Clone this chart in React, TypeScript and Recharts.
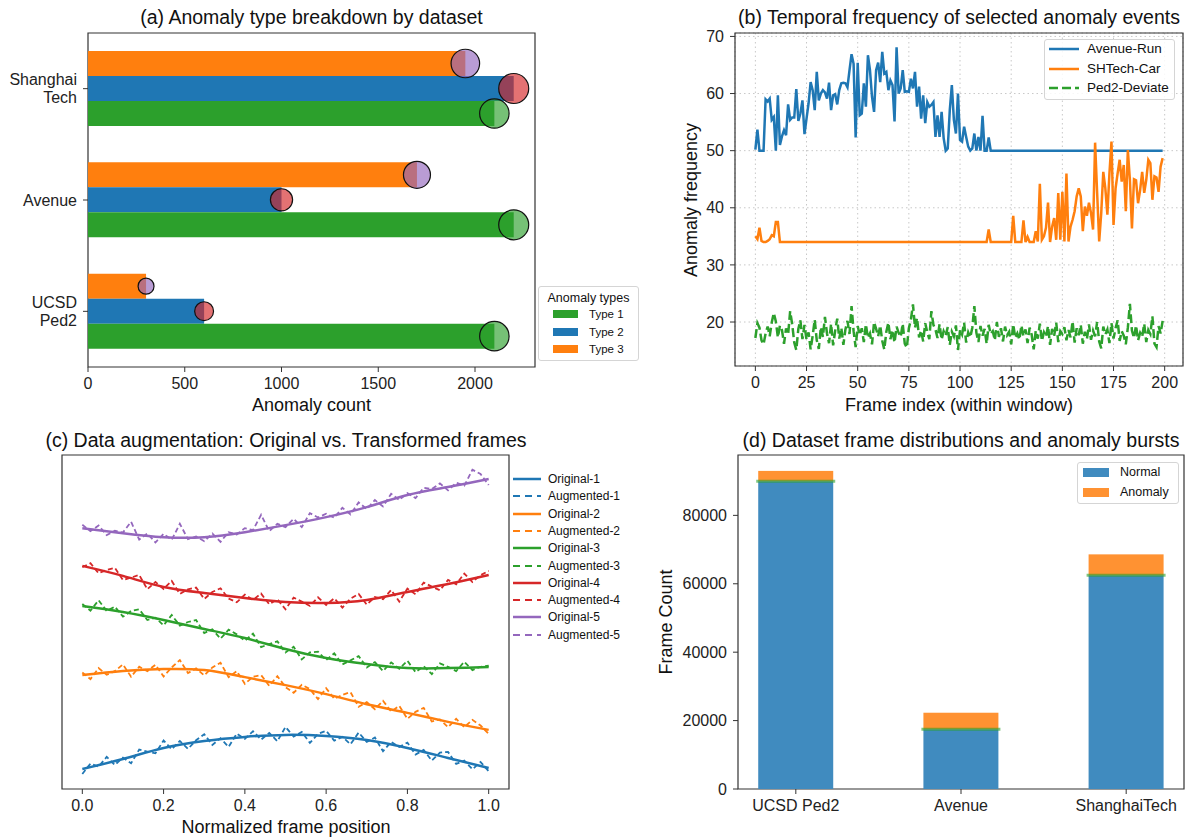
import React from 'react';
import {
  BarChart,
  Bar,
  LineChart,
  Line,
  XAxis,
  YAxis,
  CartesianGrid,
  Legend,
  ReferenceArea,
} from 'recharts';

const FONT = '"Liberation Sans", Arial, Helvetica, sans-serif';

const BLUE = '#1f77b4';
const ORANGE = '#ff7f0e';
const GREEN = '#2ca02c';
const RED = '#d62728';
const PURPLE = '#9467bd';

// (a) anomaly type breakdown, datasets listed top to bottom
const datasetLabels = ['Shanghai\nTech', 'Avenue', 'UCSD\nPed2'];
const type1Counts = [2100, 2200, 2100];
const type2Counts = [2200, 1000, 600];
const type3Counts = [1950, 1700, 300];
const countTicks = [0, 500, 1000, 1500, 2000];
const typeLegend = [
  { label: 'Type 1', color: GREEN },
  { label: 'Type 2', color: BLUE },
  { label: 'Type 3', color: ORANGE },
];

// (b) temporal frequency, one value per frame
const frameTicks = [0, 25, 50, 75, 100, 125, 150, 175, 200];
const freqTicks = [20, 30, 40, 50, 60, 70];
const avenueRun = [
  50.2, 53.7, 50, 50, 50, 59.0, 58.6, 59.1, 55.4, 55.9,
  50.0, 59.7, 51.0, 52.5, 53.6, 52.7, 58.1, 55.4, 55.8, 55.8,
  60.8, 55.2, 56.5, 58.8, 52.9, 55.6, 58.3, 62.0, 60.6, 57.1,
  63.8, 58.8, 60.0, 60.6, 60.2, 59.1, 61.9, 57.1, 59.7, 59.9,
  58.1, 60.6, 61.8, 61.9, 61.8, 61.1, 64.1, 66.9, 65.2, 52.3,
  65.4, 56.2, 56.5, 61.8, 57.7, 66.7, 64.1, 59.4, 56.8, 64.1,
  65.4, 62.0, 67.3, 63.5, 63.8, 60.6, 62.3, 61.5, 55.1, 68.1,
  60.0, 60.9, 64.1, 60.3, 60.4, 60.3, 62.6, 60.9, 63.8, 57.7,
  61.2, 55.6, 59.7, 54.8, 58.5, 57.7, 58.0, 58.5, 52.4, 56.2,
  52.4, 56.8, 52.2, 50.0, 50.4, 57.1, 61.5, 55.4, 53.0, 60.0,
  51.9, 51.6, 54.2, 52.4, 50.7, 50.0, 50.4, 53.0, 50.0, 52.4,
  50.0, 56.1, 50.0, 50.0, 52.3, 50.0, 50.0,
];
// after frame 116 the run stays flat at 50
const avenueRunTail = [[199, 50]];
const shtechCar = [
  [0, 35.0], [1, 34.5], [2, 36.5], [3, 34.2], [4, 34.0], [5, 34.0], [6, 34.2], [7, 34.5], [8, 35.2], [9, 35.0],
  [10, 37.5], [11, 37.5], [12, 34.0], [113, 34.0], [114, 36.2], [115, 34.0], [125, 34.0], [126, 38.6], [127, 34.0],
  [130, 34.0], [131, 37.8], [132, 34.0], [133, 34.9], [134, 34.0], [136, 34.0], [137, 35.9], [138, 34.1], [139, 44.2],
  [140, 34.4], [141, 35.0], [142, 36.5], [143, 40.9], [144, 34.0], [145, 36.7], [146, 38.2], [147, 34.4], [148, 42.6],
  [149, 34.4], [150, 42.8], [151, 34.1], [152, 46.0], [153, 34.1], [154, 36.7], [155, 37.9], [156, 39.4], [157, 42.0],
  [158, 43.4], [159, 42.0], [160, 35.9], [161, 40.2], [162, 38.6], [163, 40.9], [164, 39.1], [165, 36.2], [166, 51.4],
  [167, 42.6], [168, 34.1], [169, 39.1], [170, 46.3], [171, 43.4], [172, 38.8], [173, 46.0], [174, 51.6], [175, 37.0],
  [176, 43.4], [177, 46.0], [178, 48.4], [179, 44.6], [180, 47.5], [181, 39.4], [182, 50.1], [183, 44.9], [184, 36.4],
  [185, 45.0], [186, 44.8], [187, 40.8], [188, 43.1], [189, 46.3], [190, 42.6], [191, 44.9], [192, 48.4], [193, 47.8],
  [194, 41.4], [195, 45.5], [196, 45.3], [197, 42.8], [198, 47.2], [199, 48.7],
];
const ped2Deviate = [
  17.2, 19.8, 19.0, 16.8, 16.1, 18.0, 19.2, 17.5, 19.9, 21.6,
  20.1, 17.3, 19.4, 18.6, 16.2, 18.9, 17.8, 21.9, 19.6, 16.4,
  15.1, 18.8, 20.3, 17.0, 19.5, 16.9, 18.2, 15.2, 17.6, 20.4,
  16.8, 15.3, 19.1, 17.4, 20.9, 18.0, 16.3, 19.7, 15.9, 18.5,
  20.6, 17.1, 19.0, 16.0, 18.7, 20.2, 17.9, 22.8, 18.4, 15.6,
  19.3, 17.7, 18.9, 16.5, 19.6, 17.2, 18.0, 16.1, 20.0, 18.8,
  17.5, 19.4, 16.7, 15.2, 18.3, 19.9, 17.0, 18.6, 16.4, 19.2,
  18.1, 17.4, 19.7, 16.2, 15.5, 18.9, 20.4, 23.1, 19.0, 20.7,
  17.3, 18.5, 16.6, 19.8, 18.2, 17.0, 21.9, 19.5, 18.7, 17.2,
  19.6, 16.9, 18.4, 17.6, 19.1, 16.0, 18.3, 17.5, 19.4, 15.1,
  18.6, 17.8, 19.9, 16.4, 18.2, 17.3, 19.0, 22.8, 18.1, 16.5,
  19.3, 17.6, 18.8, 16.2, 19.5, 17.9, 18.4, 16.8, 20.0, 17.4,
  18.9, 16.6, 19.2, 17.7, 18.3, 16.1, 19.6, 17.2, 18.0, 16.9,
  19.4, 17.5, 18.7, 16.3, 19.0, 17.8, 15.2, 18.5, 17.1, 19.7,
  16.7, 18.2, 17.4, 19.3, 16.0, 18.8, 17.6, 19.9, 16.5, 18.4,
  17.9, 19.1, 16.8, 18.6, 17.3, 20.1, 16.4, 18.9, 17.7, 19.5,
  16.2, 18.3, 17.0, 19.6, 16.9, 18.5, 17.5, 20.0, 16.6, 15.4,
  19.2, 17.8, 18.7, 16.3, 19.8, 17.1, 18.9, 20.3, 16.7, 18.4,
  17.6, 16.1, 19.0, 23.2, 18.5, 17.2, 19.4, 16.8, 18.1, 17.4,
  19.7, 16.5, 18.6, 17.9, 21.0, 16.2, 15.6, 19.3, 18.0, 20.2,
];

// (c) original vs augmented curves (y axis is unlabelled, arbitrary units)
const posTicks = [0, 0.2, 0.4, 0.6, 0.8, 1.0];
const origX = [0, 0.1, 0.2, 0.3, 0.4, 0.5, 0.6, 0.7, 0.8, 0.9, 1.0];
const original1 = [0.60, 0.90, 1.23, 1.44, 1.56, 1.62, 1.59, 1.47, 1.23, 0.93, 0.63];
const original2 = [3.41, 3.53, 3.59, 3.56, 3.35, 3.11, 2.84, 2.54, 2.28, 2.01, 1.77];
const original3 = [5.48, 5.30, 5.06, 4.79, 4.52, 4.19, 3.92, 3.74, 3.62, 3.62, 3.65];
const original4 = [6.68, 6.38, 6.05, 5.87, 5.72, 5.60, 5.57, 5.66, 5.90, 6.14, 6.41];
const original5 = [7.81, 7.66, 7.54, 7.54, 7.69, 7.90, 8.14, 8.44, 8.80, 9.04, 9.28];
const augX = [
  0, 0.02, 0.04, 0.06, 0.08, 0.1, 0.12, 0.14, 0.16, 0.18, 0.2, 0.22, 0.24, 0.26, 0.28, 0.3, 0.32,
  0.34, 0.36, 0.38, 0.4, 0.42, 0.44, 0.46, 0.48, 0.5, 0.52, 0.54, 0.56, 0.58, 0.6, 0.62, 0.64,
  0.66, 0.68, 0.7, 0.72, 0.74, 0.76, 0.78, 0.8, 0.82, 0.84, 0.86, 0.88, 0.9, 0.92, 0.94, 0.96, 0.98, 1.0,
];
const augmented1 = [
  0.45, 0.76, 0.67, 0.96, 0.72, 0.94, 0.77, 1.18, 1.12, 1.07, 1.45, 1.19, 1.44, 1.20, 1.46, 1.64, 1.32,
  1.52, 1.26, 1.66, 1.50, 1.73, 1.48, 1.68, 1.43, 1.86, 1.57, 1.71, 1.38, 1.65, 1.74, 1.45, 1.56,
  1.34, 1.69, 1.41, 1.54, 1.13, 1.41, 1.26, 1.39, 1.03, 1.17, 0.85, 1.09, 1.11, 0.75, 0.85, 0.59, 0.81, 0.53,
];
const augmented2 = [
  3.49, 3.29, 3.62, 3.42, 3.53, 3.73, 3.36, 3.66, 3.53, 3.72, 3.37, 3.64, 3.86, 3.47, 3.61, 3.40, 3.64,
  3.78, 3.35, 3.53, 3.15, 3.36, 3.41, 3.09, 3.38, 3.05, 2.88, 3.12, 2.99, 2.69, 3.02, 2.70, 2.82,
  2.90, 2.46, 2.60, 2.39, 2.64, 2.32, 2.49, 2.10, 2.31, 2.43, 2.02, 2.08, 1.85, 2.10, 1.85, 2.07, 1.90, 1.65,
];
const augmented3 = [
  5.54, 5.34, 5.65, 5.33, 5.46, 5.16, 5.33, 5.38, 5.06, 5.13, 4.90, 5.21, 4.89, 5.00, 5.06, 4.67, 4.78,
  4.50, 4.77, 4.63, 4.44, 4.65, 4.25, 4.34, 4.42, 4.09, 4.26, 3.88, 4.09, 4.11, 3.86, 4.06, 3.73,
  3.85, 3.98, 3.64, 3.80, 3.53, 3.79, 3.60, 3.84, 3.50, 3.68, 3.44, 3.76, 3.66, 3.53, 3.81, 3.56, 3.66, 3.69,
];
const augmented4 = [
  6.64, 6.76, 6.46, 6.56, 6.62, 6.26, 6.33, 6.41, 5.98, 6.20, 5.99, 6.23, 5.84, 5.98, 6.03, 5.69, 5.90,
  6.01, 5.70, 5.59, 5.82, 5.66, 5.85, 5.53, 5.68, 5.38, 5.73, 5.61, 5.48, 5.74, 5.51, 5.71, 5.43,
  5.70, 5.84, 5.52, 5.75, 5.68, 5.96, 5.61, 6.00, 5.83, 6.18, 6.06, 5.95, 6.26, 6.13, 6.45, 6.20, 6.40, 6.53,
];
const augmented5 = [
  7.91, 7.72, 7.89, 7.60, 7.73, 7.68, 8.00, 7.47, 7.65, 7.38, 7.64, 7.46, 7.94, 7.48, 7.56, 7.42, 7.65,
  7.40, 7.69, 7.62, 7.81, 7.75, 8.21, 7.72, 7.94, 7.84, 8.09, 7.84, 8.26, 8.13, 8.24, 8.12, 8.42,
  8.22, 8.58, 8.38, 8.65, 8.46, 8.84, 8.65, 8.86, 8.71, 9.02, 8.98, 9.15, 8.94, 9.17, 9.08, 9.56, 9.43, 9.10,
];

// (d) frame counts per dataset
const frameDatasets = ['UCSD Ped2', 'Avenue', 'ShanghaiTech'];
const normalFrames = [90000, 17500, 62500];
const anomalyFrames = [3000, 4800, 6100];
const frameCountTicks = [0, 20000, 40000, 60000, 80000];

// ---- derived tables ----
const barRows = datasetLabels.map((name, i) => ({
  name,
  type1: type1Counts[i],
  type2: type2Counts[i],
  type3: type3Counts[i],
}));
const avenuePoints = [
  ...avenueRun.map((y, i) => ({ x: i, y })),
  ...avenueRunTail.map(([x, y]) => ({ x, y })),
];
const shtechPoints = shtechCar.map(([x, y]) => ({ x, y }));
const ped2Points = ped2Deviate.map((y, i) => ({ x: i, y }));
const toPoints = (xs: number[], ys: number[]) => xs.map((x, i) => ({ x, y: ys[i] }));
const curves = [
  { id: 1, color: BLUE, orig: original1, aug: augmented1 },
  { id: 2, color: ORANGE, orig: original2, aug: augmented2 },
  { id: 3, color: GREEN, orig: original3, aug: augmented3 },
  { id: 4, color: RED, orig: original4, aug: augmented4 },
  { id: 5, color: PURPLE, orig: original5, aug: augmented5 },
];
const frameRows = frameDatasets.map((name, i) => ({
  x: i,
  name,
  normal: normalFrames[i],
  anomaly: anomalyFrames[i],
}));

const TICK_FONT = 16;

const axisStyle = {
  tick: { fontSize: TICK_FONT, fill: '#222' },
  tickLine: { stroke: '#333' },
  tickSize: 5,
  tickMargin: 6,
  axisLine: false,
};

const MultiLineTick = (props: any) => {
  const { x, y, payload } = props;
  const lines = String(payload.value).split('\n');
  return (
    <text x={x} y={y} textAnchor="end" fontSize={TICK_FONT} fill="#222">
      {lines.map((line, i) => (
        <tspan key={i} x={x} y={y + 5.6 + (i - (lines.length - 1) / 2) * 18}>
          {line}
        </tspan>
      ))}
    </text>
  );
};

// circle at the end of each bar, size follows the count
const bubble = (color: string, key: string) => (props: any) => {
  const { x, y, width, height, payload } = props;
  const r = Math.sqrt(38 + 0.085 * payload[key]);
  return (
    <circle
      cx={x + width}
      cy={y + height / 2}
      r={r}
      fill={color}
      fillOpacity={0.65}
      stroke="#111"
      strokeWidth={1.2}
    />
  );
};

// anomaly segment with the green burst marker at its base
const BurstBar = (props: any) => {
  const { x, y, width, height, fill } = props;
  return (
    <g>
      <rect x={x} y={y} width={width} height={height} fill={fill} />
      <line
        x1={x - 2}
        x2={x + width + 2}
        y1={y + height}
        y2={y + height}
        stroke={GREEN}
        strokeOpacity={0.6}
        strokeWidth={3}
      />
    </g>
  );
};

const Title = ({ x, y, size = 19.5, children }: any) => (
  <div
    style={{
      position: 'absolute',
      left: x - 300,
      width: 600,
      top: y - 12,
      lineHeight: '24px',
      textAlign: 'center',
      fontSize: size,
      color: '#111',
      whiteSpace: 'nowrap',
    }}
  >
    {children}
  </div>
);

const VLabel = ({ x, y, children }: any) => (
  <div
    style={{
      position: 'absolute',
      left: x,
      top: y,
      transform: 'translate(-50%, -50%) rotate(-90deg)',
      fontSize: 18,
      color: '#111',
      whiteSpace: 'nowrap',
    }}
  >
    {children}
  </div>
);

const legendA = () => (
  <div
    style={{
      position: 'relative',
      width: 101,
      height: 75,
      boxSizing: 'border-box',
      border: '1px solid #d5d5d5',
      borderRadius: 3,
      background: '#fff',
      color: '#111',
    }}
  >
    <div style={{ position: 'absolute', left: 0, right: 0, top: 3, textAlign: 'center', fontSize: 12.5, lineHeight: '16px' }}>
      Anomaly types
    </div>
    {typeLegend.map((item, i) => (
      <React.Fragment key={item.label}>
        <div style={{ position: 'absolute', left: 14, top: 23 + i * 17.5, width: 25, height: 8, background: item.color }} />
        <div style={{ position: 'absolute', left: 50, top: 19 + i * 17.5, fontSize: 11.5, lineHeight: '16px' }}>
          {item.label}
        </div>
      </React.Fragment>
    ))}
  </div>
);

const lineLegendB = [
  { label: 'Avenue-Run', color: BLUE, dash: undefined },
  { label: 'SHTech-Car', color: ORANGE, dash: undefined },
  { label: 'Ped2-Deviate', color: GREEN, dash: '9 4' },
];

const legendB = () => (
  <div
    style={{
      position: 'relative',
      width: 131,
      height: 61,
      boxSizing: 'border-box',
      border: '1px solid #d5d5d5',
      borderRadius: 3,
      background: 'rgba(255,255,255,0.85)',
      color: '#111',
    }}
  >
    {lineLegendB.map((item, i) => (
      <React.Fragment key={item.label}>
        <svg style={{ position: 'absolute', left: 4, top: 6 + i * 19.5 }} width={30} height={6}>
          <line x1={0} x2={30} y1={3} y2={3} stroke={item.color} strokeWidth={2.5} strokeDasharray={item.dash} />
        </svg>
        <div style={{ position: 'absolute', left: 42, top: 0 + i * 19.5, fontSize: 13.5, lineHeight: '18px' }}>
          {item.label}
        </div>
      </React.Fragment>
    ))}
  </div>
);

const legendC = () => (
  <div style={{ position: 'relative', width: 120, height: 175, color: '#111' }}>
    {curves.flatMap((c, k) =>
      [false, true].map((aug, j) => {
        const row = k * 2 + j;
        return (
          <React.Fragment key={`${c.id}-${j}`}>
            <svg style={{ position: 'absolute', left: 3, top: 6 + row * 17.3 }} width={28} height={6}>
              <line
                x1={0}
                x2={28}
                y1={3}
                y2={3}
                stroke={c.color}
                strokeWidth={aug ? 2 : 2.5}
                strokeDasharray={aug ? '7 5' : undefined}
              />
            </svg>
            <div style={{ position: 'absolute', left: 38, top: 1 + row * 17.3, fontSize: 12, lineHeight: '16px' }}>
              {aug ? `Augmented-${c.id}` : `Original-${c.id}`}
            </div>
          </React.Fragment>
        );
      })
    )}
  </div>
);

const barLegendD = [
  { label: 'Normal', color: '#408bbf' },
  { label: 'Anomaly', color: '#ff9232' },
];

const legendD = () => (
  <div
    style={{
      position: 'relative',
      width: 102,
      height: 42,
      boxSizing: 'border-box',
      border: '1px solid #d5d5d5',
      borderRadius: 3,
      background: 'rgba(255,255,255,0.85)',
      color: '#111',
    }}
  >
    {barLegendD.map((item, i) => (
      <React.Fragment key={item.label}>
        <div style={{ position: 'absolute', left: 5, top: 4.5 + i * 20, width: 26, height: 9, background: item.color }} />
        <div style={{ position: 'absolute', left: 42, top: 1 + i * 20, fontSize: 12.5, lineHeight: '16px' }}>
          {item.label}
        </div>
      </React.Fragment>
    ))}
  </div>
);

const spine = { fill: 'none', stroke: '#333', strokeWidth: 1.2, ifOverflow: 'visible' as const };

export default function App() {
  return (
    <div
      style={{
        position: 'absolute',
        left: 0,
        top: 0,
        width: 1189,
        height: 838,
        background: '#fff',
        fontFamily: FONT,
        overflow: 'hidden',
      }}
    >
      {/* (a) */}
      <div style={{ position: 'absolute', left: 0, top: 0 }}>
        <BarChart
          layout="vertical"
          width={660}
          height={420}
          data={barRows}
          margin={{ top: 33, right: 125, left: 0, bottom: 0 }}
          barSize={25}
          barGap={0}
        >
          <XAxis type="number" domain={[0, 2310]} ticks={countTicks} allowDataOverflow height={53} {...axisStyle} />
          <YAxis
            type="category"
            dataKey="name"
            width={88}
            tick={<MultiLineTick />}
            tickLine={{ stroke: '#333' }}
            tickSize={5}
            tickMargin={6}
            axisLine={false}
          />
          <Bar dataKey="type3" name="Type 3" fill={ORANGE} isAnimationActive={false} />
          <Bar dataKey="type2" name="Type 2" fill={BLUE} isAnimationActive={false} />
          <Bar dataKey="type1" name="Type 1" fill={GREEN} isAnimationActive={false} />
          <ReferenceArea x1={0} x2={2310} {...spine} />
          <Legend
            content={legendA}
            layout="horizontal"
            verticalAlign="middle"
            align="center"
            wrapperStyle={{ left: 538, top: 286, width: 101, height: 75 }}
          />
        </BarChart>
      </div>
      <div style={{ position: 'absolute', left: 0, top: 0 }}>
        <BarChart
          layout="vertical"
          width={660}
          height={420}
          data={barRows}
          margin={{ top: 33, right: 125, left: 88, bottom: 53 }}
          barSize={25}
          barGap={0}
        >
          <XAxis type="number" domain={[0, 2310]} allowDataOverflow hide />
          <YAxis type="category" dataKey="name" hide />
          <Bar dataKey="type3" shape={bubble(PURPLE, 'type3')} isAnimationActive={false} />
          <Bar dataKey="type2" shape={bubble(RED, 'type2')} isAnimationActive={false} />
          <Bar dataKey="type1" shape={bubble(GREEN, 'type1')} isAnimationActive={false} />
        </BarChart>
      </div>
      <Title x={311.5} y={17}>(a) Anomaly type breakdown by dataset</Title>
      <Title x={311.5} y={405} size={18}>Anomaly count</Title>

      {/* (b) */}
      <div style={{ position: 'absolute', left: 640, top: 0 }}>
        <LineChart width={549} height={420} margin={{ top: 33, right: 6, left: 0, bottom: 0 }}>
          <CartesianGrid strokeDasharray="1.5 3" stroke="#c8c8c8" />
          <XAxis
            type="number"
            dataKey="x"
            domain={[-9.95, 208.95]}
            ticks={frameTicks}
            allowDataOverflow
            height={54}
            {...axisStyle}
          />
          <YAxis type="number" domain={[12.3, 70.6]} ticks={freqTicks} allowDataOverflow width={95} {...axisStyle} />
          <Line data={avenuePoints} dataKey="y" name="Avenue-Run" type="linear" stroke={BLUE} strokeWidth={2.5} dot={false} isAnimationActive={false} />
          <Line data={shtechPoints} dataKey="y" name="SHTech-Car" type="linear" stroke={ORANGE} strokeWidth={2.5} dot={false} isAnimationActive={false} />
          <Line
            data={ped2Points}
            dataKey="y"
            name="Ped2-Deviate"
            type="linear"
            stroke={GREEN}
            strokeWidth={2.5}
            strokeDasharray="9 4"
            dot={false}
            isAnimationActive={false}
          />
          <ReferenceArea x1={-9.95} x2={208.95} {...spine} />
          <Legend
            content={legendB}
            layout="horizontal"
            verticalAlign="middle"
            align="center"
            wrapperStyle={{ left: 404, top: 39, width: 131, height: 61 }}
          />
        </LineChart>
      </div>
      <Title x={959} y={17}>(b) Temporal frequency of selected anomaly events</Title>
      <Title x={959} y={405} size={18}>Frame index (within window)</Title>
      <VLabel x={691} y={200}>Anomaly frequency</VLabel>

      {/* (c) */}
      <div style={{ position: 'absolute', left: 0, top: 420 }}>
        <LineChart width={660} height={418} margin={{ top: 35, right: 151, left: 62, bottom: 0 }}>
          <XAxis
            type="number"
            dataKey="x"
            domain={[-0.05, 1.05]}
            ticks={posTicks}
            tickFormatter={(v: number) => v.toFixed(1)}
            allowDataOverflow
            height={49}
            {...axisStyle}
          />
          <YAxis type="number" domain={[0, 10]} allowDataOverflow hide />
          {curves.flatMap((c) => [
            <Line
              key={`o${c.id}`}
              data={toPoints(origX, c.orig)}
              dataKey="y"
              name={`Original-${c.id}`}
              type="natural"
              stroke={c.color}
              strokeWidth={2.5}
              dot={false}
              isAnimationActive={false}
            />,
            <Line
              key={`a${c.id}`}
              data={toPoints(augX, c.aug)}
              dataKey="y"
              name={`Augmented-${c.id}`}
              type="linear"
              stroke={c.color}
              strokeWidth={1.8}
              strokeDasharray="5 3"
              dot={false}
              isAnimationActive={false}
            />,
          ])}
          <ReferenceArea x1={-0.05} x2={1.05} {...spine} />
          <Legend
            content={legendC}
            layout="horizontal"
            verticalAlign="middle"
            align="center"
            wrapperStyle={{ left: 510, top: 50, width: 120, height: 175 }}
          />
        </LineChart>
      </div>
      <Title x={286} y={440}>(c) Data augmentation: Original vs. Transformed frames</Title>
      <Title x={286} y={827} size={18}>Normalized frame position</Title>

      {/* (d) */}
      <div style={{ position: 'absolute', left: 640, top: 420 }}>
        <BarChart width={549} height={418} data={frameRows} margin={{ top: 35, right: 5, left: 0, bottom: 0 }}>
          <XAxis
            type="number"
            dataKey="x"
            domain={[-0.35, 2.35]}
            ticks={frameRows.map((r) => r.x)}
            tickFormatter={(v: number) => frameDatasets[v] ?? ''}
            allowDataOverflow
            height={49}
            {...axisStyle}
          />
          <YAxis type="number" domain={[0, 97650]} ticks={frameCountTicks} allowDataOverflow width={98} {...axisStyle} />
          <Bar dataKey="normal" name="Normal" stackId="f" fill="#408bbf" barSize={75} isAnimationActive={false} />
          <Bar
            dataKey="anomaly"
            name="Anomaly"
            stackId="f"
            fill="#ff9232"
            barSize={75}
            shape={BurstBar}
            isAnimationActive={false}
          />
          <ReferenceArea x1={-0.35} x2={2.35} {...spine} />
          <Legend
            content={legendD}
            layout="horizontal"
            verticalAlign="middle"
            align="center"
            wrapperStyle={{ left: 437, top: 42, width: 102, height: 42 }}
          />
        </BarChart>
      </div>
      <Title x={961} y={440}>(d) Dataset frame distributions and anomaly bursts</Title>
      <VLabel x={666} y={622}>Frame Count</VLabel>
    </div>
  );
}
